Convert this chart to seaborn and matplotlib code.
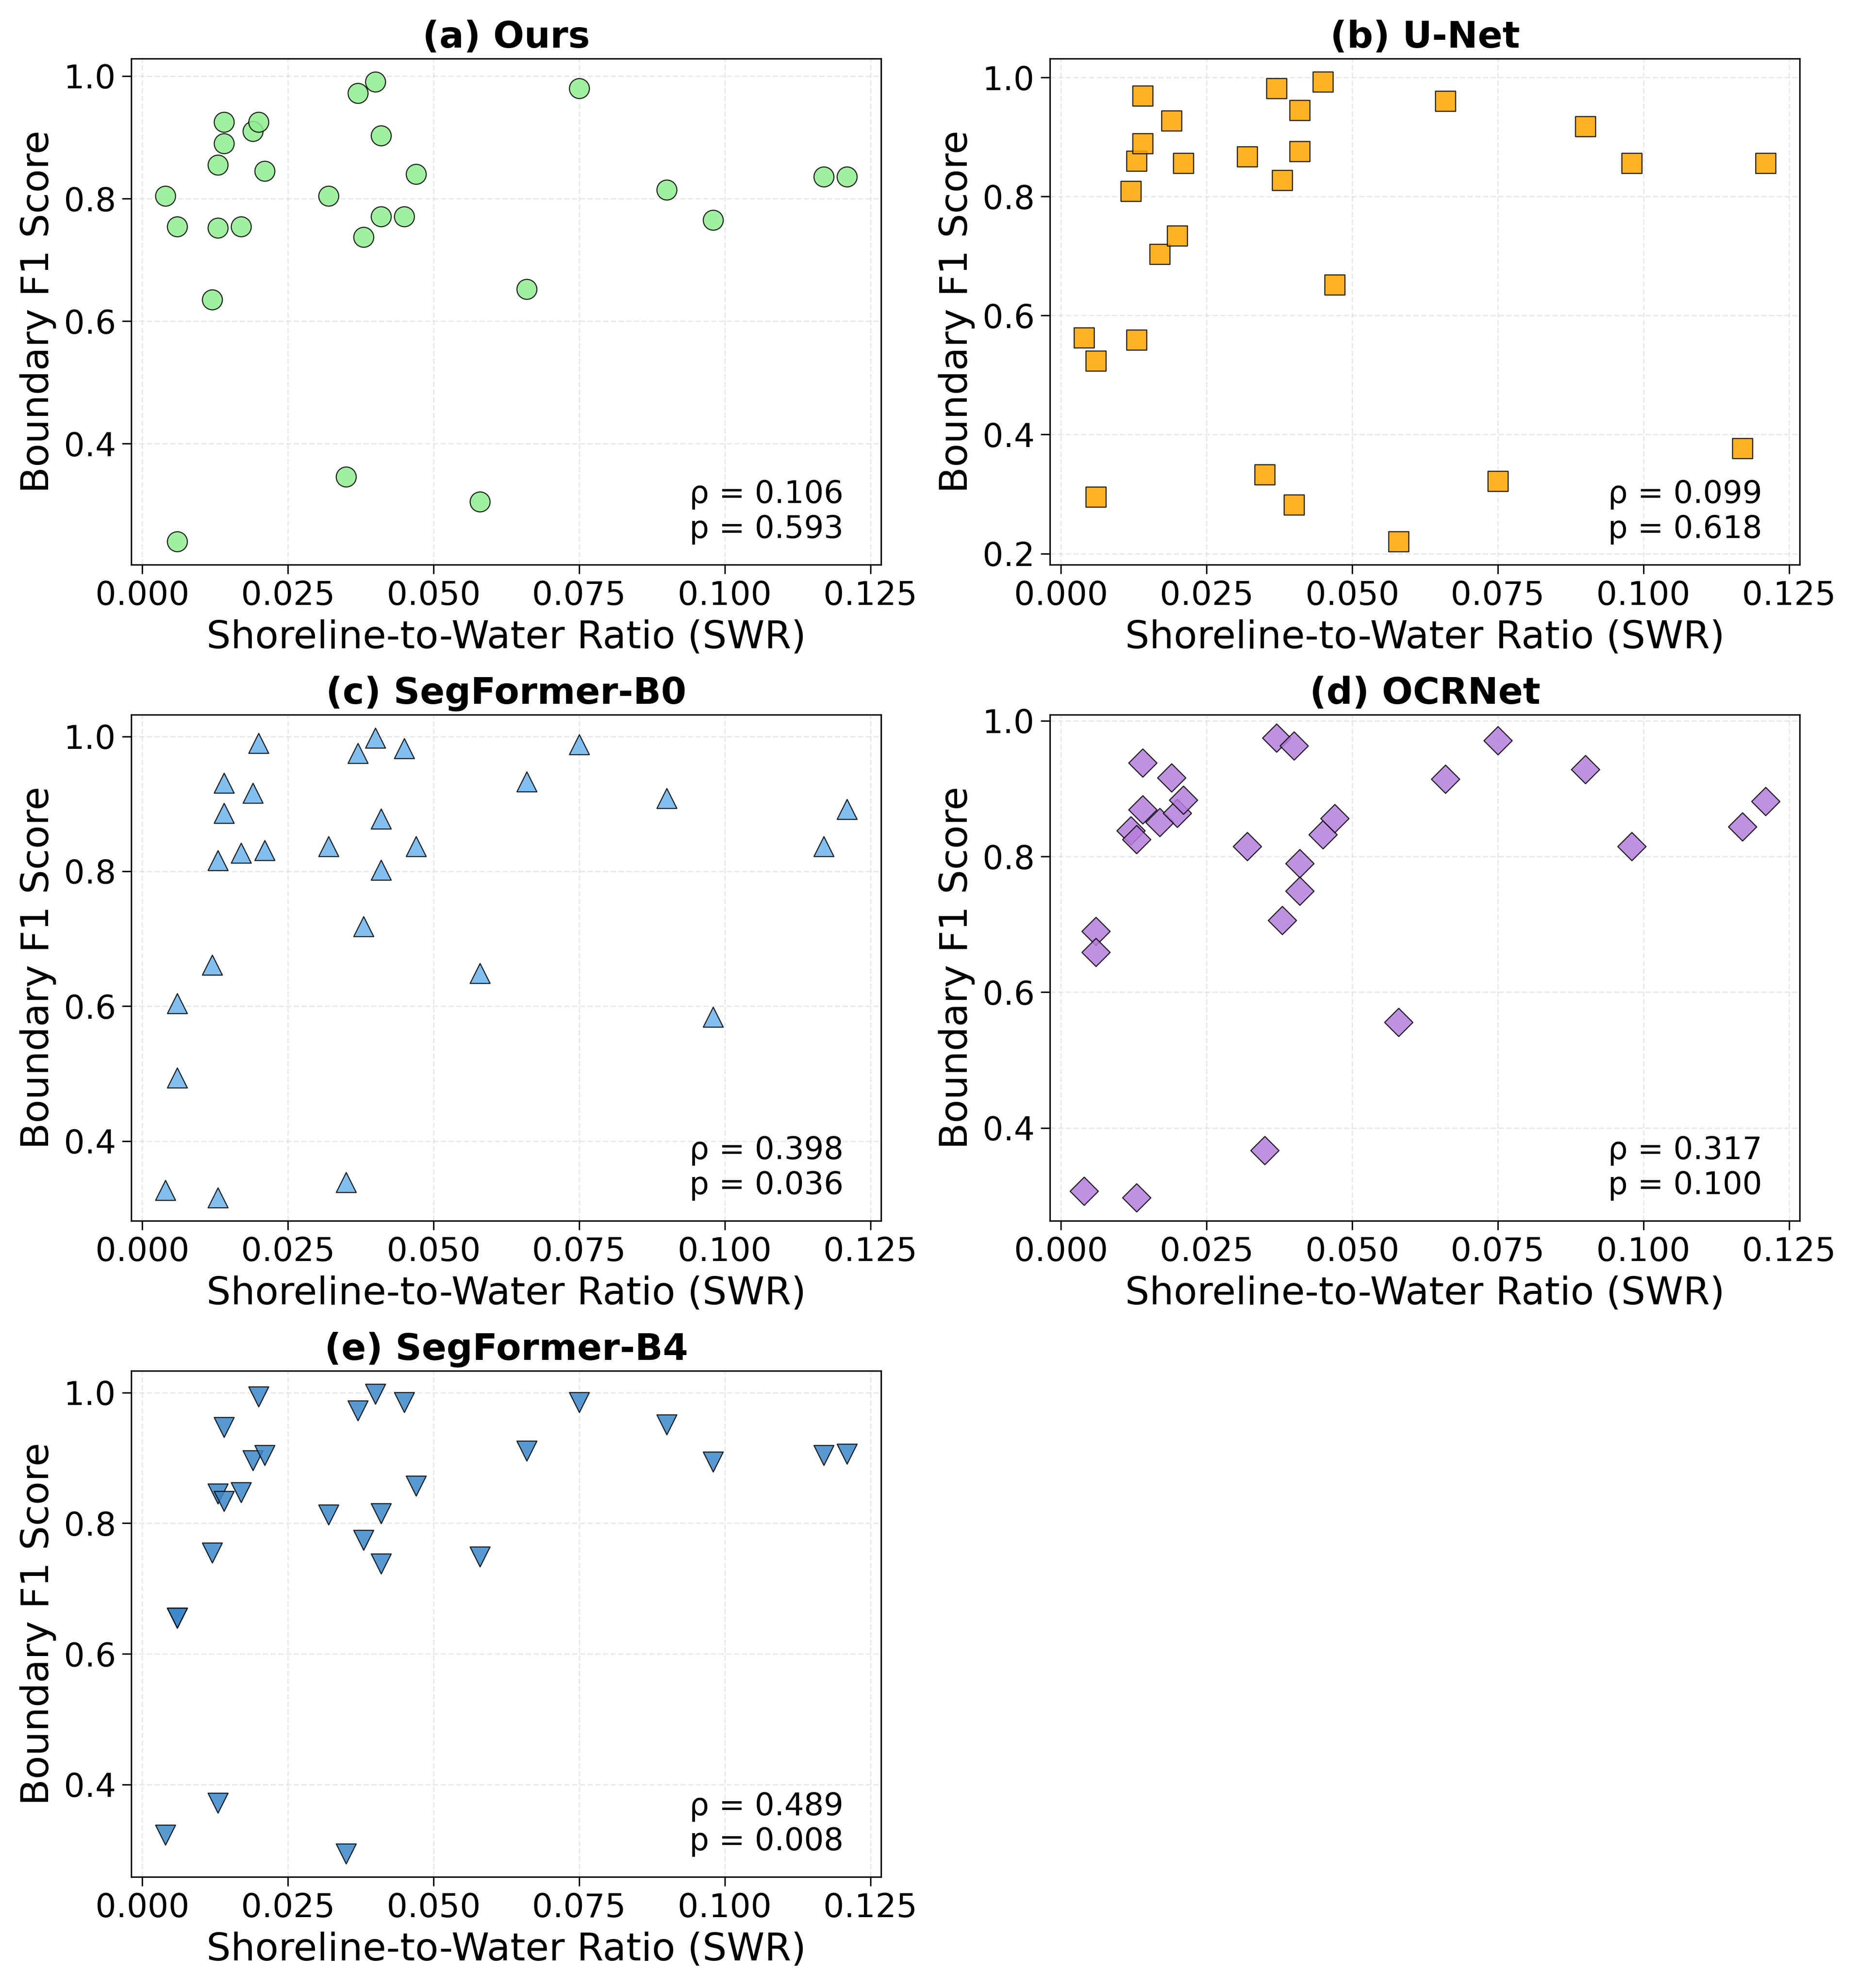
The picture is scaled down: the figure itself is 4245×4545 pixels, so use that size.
import numpy as np
import pandas as pd
import matplotlib
matplotlib.use('Agg')
import matplotlib.pyplot as plt
from matplotlib.ticker import MultipleLocator
import seaborn as sns

sns.set_style('white')
plt.rcParams.update({'text.color': 'black', 'axes.labelcolor': 'black',
                     'xtick.color': 'black', 'ytick.color': 'black'})

swr = [0.004, 0.006, 0.006, 0.012, 0.013, 0.013, 0.014, 0.014, 0.017, 0.019, 0.020, 0.021,
       0.032, 0.035, 0.037, 0.038, 0.040, 0.041, 0.041, 0.045, 0.047, 0.058, 0.066, 0.075,
       0.090, 0.098, 0.117, 0.121]

f1_ours = [0.804, 0.754, 0.240, 0.635, 0.855, 0.752, 0.890, 0.925, 0.754, 0.910, 0.925, 0.845,
           0.804, 0.346, 0.972, 0.737, 0.991, 0.903, 0.771, 0.771, 0.840, 0.305, 0.652, 0.980,
           0.814, 0.765, 0.836, 0.836]
f1_unet = [0.563, 0.524, 0.295, 0.809, 0.860, 0.559, 0.889, 0.969, 0.703, 0.927, 0.734, 0.856,
           0.867, 0.333, 0.982, 0.827, 0.282, 0.945, 0.876, 0.993, 0.652, 0.220, 0.960, 0.322,
           0.918, 0.856, 0.377, 0.856]
f1_b0 = [0.327, 0.604, 0.494, 0.661, 0.816, 0.316, 0.886, 0.931, 0.827, 0.916, 0.990, 0.831,
         0.837, 0.339, 0.975, 0.718, 0.998, 0.878, 0.802, 0.982, 0.837, 0.649, 0.933, 0.988,
         0.908, 0.584, 0.837, 0.892]
f1_ocr = [0.307, 0.690, 0.659, 0.838, 0.825, 0.297, 0.938, 0.869, 0.850, 0.916, 0.864, 0.883,
          0.815, 0.367, 0.975, 0.706, 0.963, 0.790, 0.749, 0.832, 0.856, 0.556, 0.914, 0.971,
          0.928, 0.815, 0.844, 0.881]
f1_b4 = [0.323, 0.655, 0.655, 0.755, 0.845, 0.372, 0.834, 0.947, 0.847, 0.896, 0.994, 0.904,
         0.813, 0.294, 0.972, 0.774, 0.998, 0.815, 0.738, 0.985, 0.857, 0.749, 0.911, 0.985,
         0.951, 0.894, 0.904, 0.906]

titles = ['(a) Ours', '(b) U-Net', '(c) SegFormer-B0', '(d) OCRNet', '(e) SegFormer-B4']
rhos = [0.106, 0.099, 0.398, 0.317, 0.489]
pvals = [0.593, 0.618, 0.036, 0.100, 0.008]
colors = ['#90EE90', '#FFA500', '#6CB4EE', '#B57EDC', '#3A87C8']
markers = ['o', 's', '^', 'D', 'v']
scores = [f1_ours, f1_unet, f1_b0, f1_ocr, f1_b4]

fig, axes = plt.subplots(3, 2, figsize=(14.15, 15.15), dpi=300)
axes = axes.flatten()
for i in range(5):
    ax = axes[i]
    df = pd.DataFrame({'swr': swr, 'f1': scores[i]})
    sns.scatterplot(data=df, x='swr', y='f1', ax=ax, color=colors[i], marker=markers[i],
                    s=120, edgecolor='black', linewidth=0.6, alpha=0.85)
    ax.set_title(titles[i], fontsize=20, fontweight='bold')
    ax.set_xlabel('Shoreline-to-Water Ratio (SWR)', fontsize=21)
    ax.set_ylabel('Boundary F1 Score', fontsize=21)
    ax.tick_params(labelsize=18, length=5, left=True, bottom=True)
    ax.set_xticks([0.0, 0.025, 0.05, 0.075, 0.1, 0.125])
    ax.yaxis.set_major_locator(MultipleLocator(0.2))
    ax.grid(True, linestyle='--', alpha=0.4)
    for sp in ax.spines.values():
        sp.set_color('black')
    ax.text(0.95, 0.04, f'ρ = {rhos[i]:.3f}\np = {pvals[i]:.3f}', transform=ax.transAxes,
            ha='right', va='bottom', fontsize=17)
axes[5].axis('off')

plt.tight_layout()
plt.savefig('out.png', dpi=300)
